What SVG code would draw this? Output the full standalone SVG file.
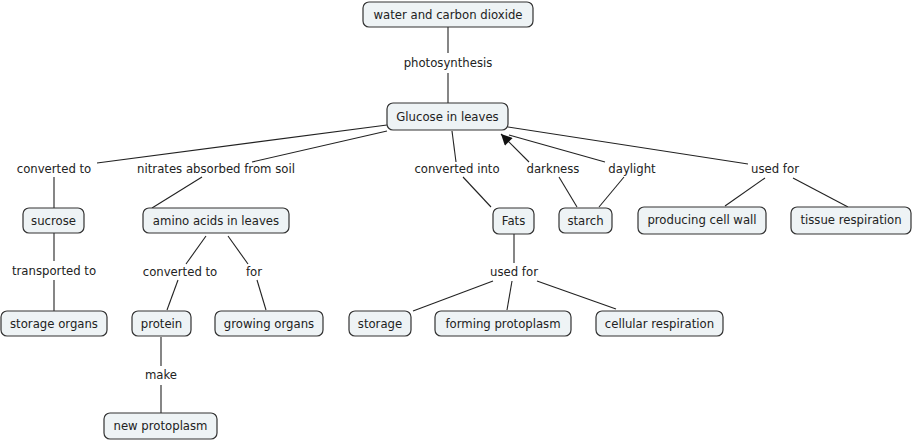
<svg xmlns="http://www.w3.org/2000/svg" width="913" height="442" viewBox="0 0 913 442">
<style>
.n rect{fill:#eef3f5;stroke:#333;stroke-width:1.2;}
text{font-family:"DejaVu Sans",Verdana,sans-serif;font-size:11.7px;fill:#222;text-anchor:middle;}
.c line{stroke:#222;stroke-width:1.1;}
</style>
<defs>
<marker id="ah" viewBox="0 0 10 10" refX="10" refY="5" markerWidth="12" markerHeight="11" markerUnits="userSpaceOnUse" orient="auto">
<path d="M0,0 L10,5 L0,10 z" fill="#111"/>
</marker>
</defs>
<rect width="913" height="442" fill="#fff"/>
<g class="c">
<line x1="448" y1="27" x2="448" y2="53"/>
<line x1="448" y1="73" x2="448" y2="103"/>
<line x1="387" y1="125" x2="97" y2="163"/>
<line x1="54" y1="177" x2="54" y2="208"/>
<line x1="54" y1="233" x2="54" y2="261"/>
<line x1="54" y1="280" x2="54" y2="311"/>
<line x1="387" y1="131" x2="252" y2="162"/>
<line x1="202" y1="177" x2="152" y2="208"/>
<line x1="206" y1="236" x2="186" y2="264"/>
<line x1="178" y1="280" x2="167" y2="310"/>
<line x1="228" y1="236" x2="248" y2="264"/>
<line x1="257" y1="280" x2="266" y2="310"/>
<line x1="161" y1="337" x2="161" y2="366"/>
<line x1="161" y1="385" x2="161" y2="413"/>
<line x1="452" y1="131" x2="456" y2="162"/>
<line x1="463" y1="177" x2="491" y2="207"/>
<line x1="514" y1="234" x2="514" y2="263"/>
<line x1="493" y1="281" x2="413" y2="311"/>
<line x1="512" y1="281" x2="507" y2="310"/>
<line x1="537" y1="281" x2="616" y2="309"/>
<line x1="577" y1="207" x2="559" y2="177"/>
<line x1="529" y1="162" x2="501" y2="134" marker-end="url(#ah)"/>
<line x1="599" y1="207" x2="624" y2="177"/>
<line x1="605" y1="162" x2="509" y2="135"/>
<line x1="508" y1="127" x2="748" y2="164"/>
<line x1="765" y1="178" x2="725" y2="206"/>
<line x1="793" y1="178" x2="848" y2="207"/>
</g>
<g class="c-labels">
<text x="448" y="67">photosynthesis</text>
<text x="54" y="173">converted to</text>
<text x="216" y="173">nitrates absorbed from soil</text>
<text x="54" y="275">transported to</text>
<text x="180" y="276">converted to</text>
<text x="254" y="276">for</text>
<text x="161" y="379">make</text>
<text x="457" y="173">converted into</text>
<text x="514" y="276">used for</text>
<text x="553" y="173">darkness</text>
<text x="632" y="173">daylight</text>
<text x="775" y="173">used for</text>
</g>
<g id="water" class="n"><rect x="363" y="2" width="170" height="25" rx="6"/><text x="448" y="19">water and carbon dioxide</text></g>
<g id="glucose" class="n"><rect x="387" y="103" width="121" height="27" rx="6"/><text x="447.5" y="121">Glucose in leaves</text></g>
<g id="sucrose" class="n"><rect x="23" y="208" width="61" height="25" rx="6"/><text x="53.5" y="225">sucrose</text></g>
<g id="storage-organs" class="n"><rect x="1" y="311" width="106" height="25" rx="6"/><text x="54" y="328">storage organs</text></g>
<g id="amino" class="n"><rect x="143" y="208" width="146" height="25" rx="6"/><text x="216" y="225">amino acids in leaves</text></g>
<g id="protein" class="n"><rect x="132" y="311" width="59" height="25" rx="6"/><text x="161.5" y="328">protein</text></g>
<g id="growing" class="n"><rect x="215" y="311" width="108" height="25" rx="6"/><text x="269" y="328">growing organs</text></g>
<g id="newproto" class="n"><rect x="104" y="413" width="113" height="26" rx="6"/><text x="160.5" y="430">new protoplasm</text></g>
<g id="fats" class="n"><rect x="493" y="208" width="41" height="26" rx="6"/><text x="513.5" y="225">Fats</text></g>
<g id="storage" class="n"><rect x="349" y="311" width="62" height="25" rx="6"/><text x="380" y="328">storage</text></g>
<g id="forming" class="n"><rect x="435" y="311" width="136" height="25" rx="6"/><text x="503" y="328">forming protoplasm</text></g>
<g id="cellular" class="n"><rect x="596" y="311" width="127" height="25" rx="6"/><text x="659.5" y="328">cellular respiration</text></g>
<g id="starch" class="n"><rect x="559" y="208" width="53" height="25" rx="6"/><text x="585.5" y="225">starch</text></g>
<g id="cellwall" class="n"><rect x="638" y="207" width="128" height="27" rx="6"/><text x="702" y="224">producing cell wall</text></g>
<g id="tissue" class="n"><rect x="791" y="207" width="120" height="27" rx="6"/><text x="851" y="224">tissue respiration</text></g>
</svg>
